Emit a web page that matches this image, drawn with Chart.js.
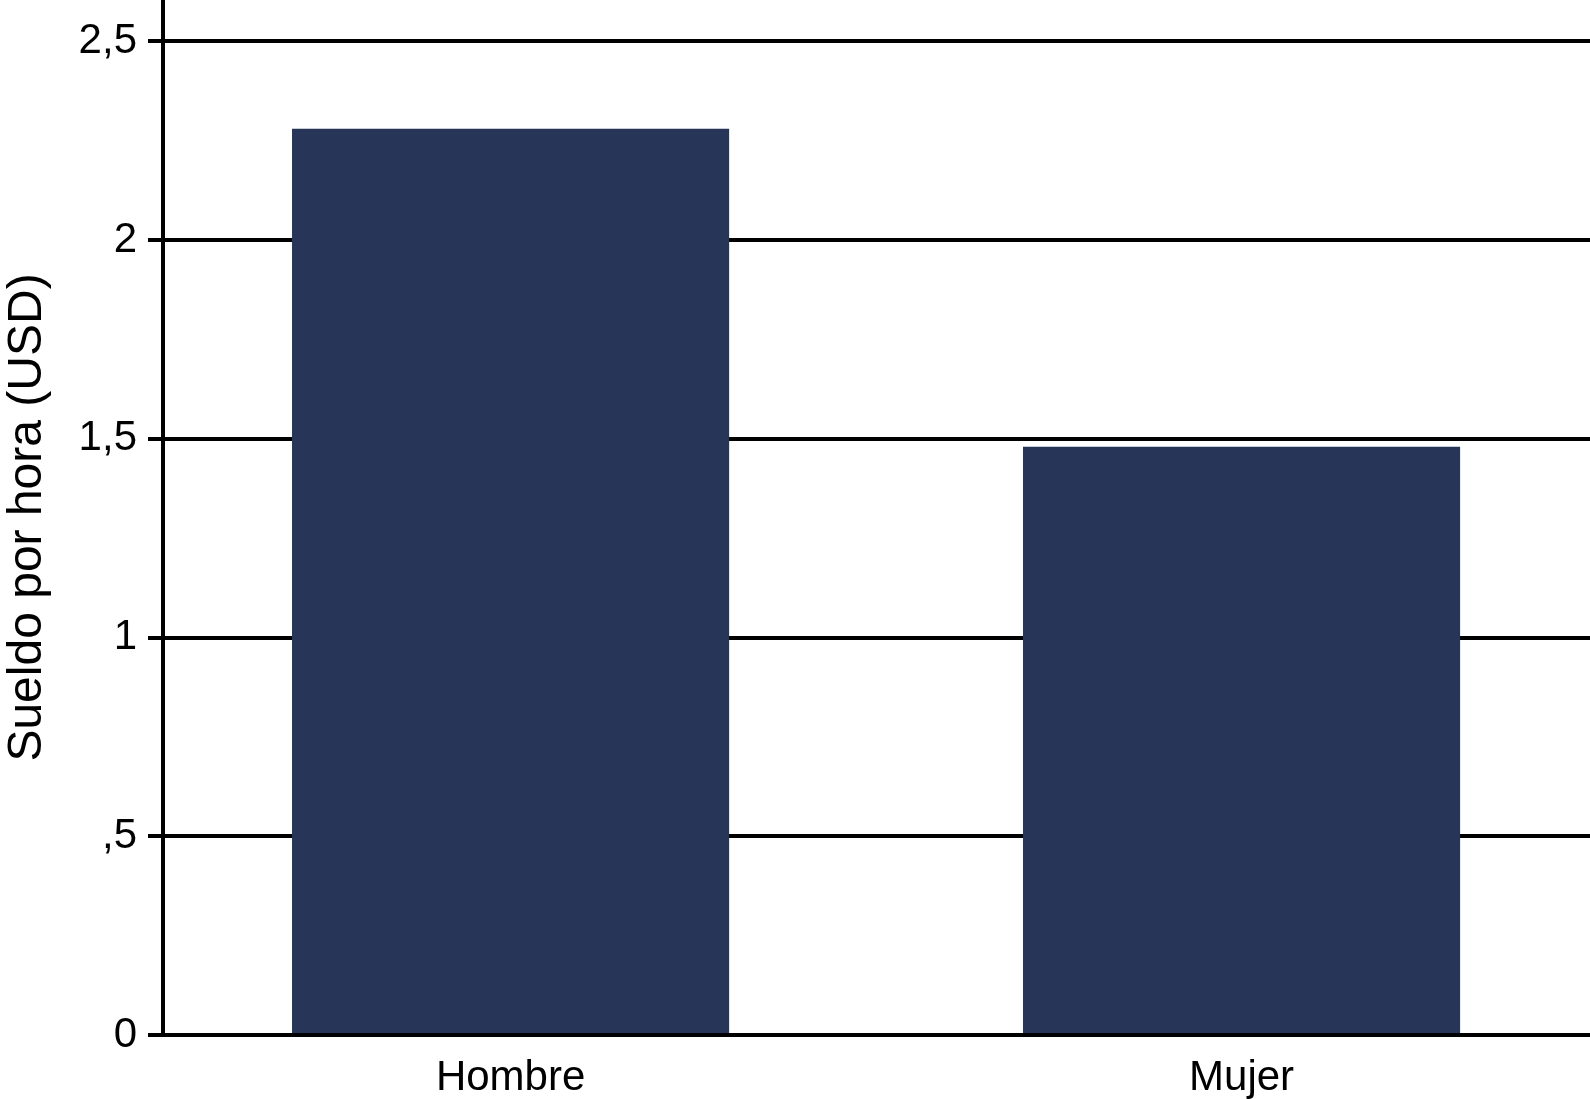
<!DOCTYPE html>
<html>
<head>
<meta charset="utf-8">
<script src="https://cdn.jsdelivr.net/npm/chart.js@4"></script>
<style>
  html, body { margin: 0; padding: 0; background: #fff; }
  canvas { display: block; }
</style>
</head>
<body>
<canvas id="chartCanvas" width="1590" height="1099"></canvas>
<script>
    const categories = ['Hombre', 'Mujer'];
    const wages = [2.28, 1.48];
    const tickValues = [0, 0.5, 1, 1.5, 2, 2.5];
    const tickLabels = ['0', ',5', '1', '1,5', '2', '2,5'];

    const fontFamily = '"Liberation Sans", Arial, Helvetica, sans-serif';

    const chartData = {
        datasets: [{
            label: 'Sueldo por hora (USD)',
            data: wages.map((v, i) => ({ x: i + 1, y: v })),
            backgroundColor: '#263558',
            borderWidth: 0,
            categoryPercentage: 1,
            barPercentage: 0.598
        }]
    };

    const ctx = document.getElementById('chartCanvas').getContext('2d');
    new Chart(ctx, {
        type: 'bar',
        data: chartData,
        options: {
            responsive: false,
            animation: false,
            devicePixelRatio: 1,
            layout: { padding: 0 },
            plugins: {
                legend: { display: false },
                tooltip: { enabled: false }
            },
            scales: {
                x: {
                    type: 'linear',
                    offset: false,
                    min: 0.5245,
                    max: 2.4767,
                    afterBuildTicks: scale => {
                        scale.ticks = categories.map((c, i) => ({ value: i + 1 }));
                    },
                    afterFit: scale => {
                        scale.height = 64;
                        scale.paddingLeft = 0;
                        scale.paddingRight = 0;
                    },
                    grid: { display: false, offset: false },
                    border: { display: true, color: '#000', width: 4 },
                    ticks: {
                        color: '#000',
                        padding: 10,
                        maxRotation: 0,
                        autoSkip: false,
                        font: { family: fontFamily, size: 42 },
                        callback: value => categories[value - 1] || ''
                    }
                },
                y: {
                    min: 0,
                    max: 2.604,
                    afterBuildTicks: scale => {
                        scale.ticks = tickValues.map(v => ({ value: v }));
                    },
                    afterFit: scale => {
                        scale.width = 163;
                        scale.paddingTop = 0;
                        scale.paddingBottom = 0;
                    },
                    grid: {
                        color: '#000',
                        lineWidth: 4,
                        tickLength: 15,
                        tickColor: '#000',
                        tickWidth: 4
                    },
                    border: { display: true, color: '#000', width: 4 },
                    ticks: {
                        color: '#000',
                        padding: 11,
                        autoSkip: false,
                        font: { family: fontFamily, size: 42 },
                        callback: value => {
                            const idx = tickValues.indexOf(value);
                            return idx >= 0 ? tickLabels[idx] : '';
                        }
                    },
                    title: {
                        display: true,
                        text: 'Sueldo por hora (USD)',
                        color: '#000',
                        padding: 0,
                        font: { family: fontFamily, size: 48, lineHeight: 1.15 }
                    }
                }
            }
        }
    });
</script>
</body>
</html>
